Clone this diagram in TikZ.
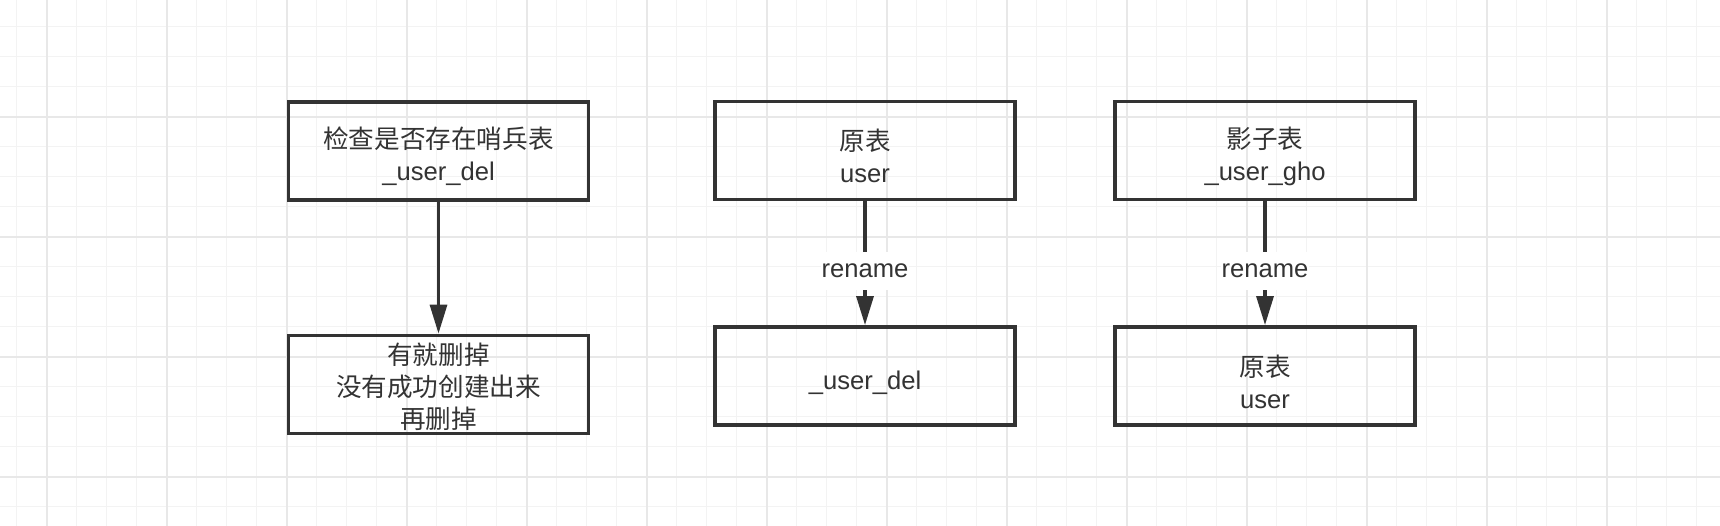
\documentclass[tikz,border=0pt]{standalone}
\usepackage{fontspec}
\setmainfont{Liberation Sans}
\newfontfamily\cjk{Noto Sans CJK SC}
\usetikzlibrary{arrows.meta}
\definecolor{dark}{HTML}{333333}
\definecolor{gridminor}{HTML}{F3F3F3}
\definecolor{gridmajor}{HTML}{E8E8E8}
\tikzset{
  minorline/.style={draw=gridminor, line width=1pt},
  majorline/.style={draw=gridmajor, line width=2pt},
  boxnode/.style={draw=dark, line width=3.8pt, minimum width=300pt, minimum height=98pt,
    inner sep=0pt},
  txt/.style={align=center, text=dark, inner sep=0pt, font=\fontsize{25.6}{32}\selectfont},
  arr/.style={draw=dark, line width=3.2pt, -{Triangle[length=29pt,width=17pt]}},
  lbl/.style={fill=white, text=dark, inner xsep=1pt, inner ysep=0pt, minimum height=38pt,
    font=\fontsize{25.6}{32}\selectfont}
}
\begin{document}
\begin{tikzpicture}[x=1pt,y=-1pt]
\useasboundingbox (0,0) rectangle (1720,526);
\fill[white] (0,0) rectangle (1720,526);
% grid
\foreach \i in {0,...,57} \draw[minorline] ({16.7+30*\i},0) -- ({16.7+30*\i},526);
\foreach \i in {0,...,16} \draw[minorline] (0,{26.7+30*\i}) -- (1720,{26.7+30*\i});
\foreach \i in {0,...,14} \draw[majorline] ({46.7+120*\i},0) -- ({46.7+120*\i},526);
\foreach \i in {0,...,3} \draw[majorline] (0,{116.7+120*\i}) -- (1720,{116.7+120*\i});
% boxes
\node[boxnode] (chk) at (438.5,151) {};
\node[boxnode] (del) at (438.5,384.5) {};
\node[boxnode] (orig) at (865,150.5) {};
\node[boxnode] (udel) at (865,376) {};
\node[boxnode] (ghost) at (1265,150.5) {};
\node[boxnode] (orig2) at (1265,376) {};
% texts
\node[txt] (chkt) at ([yshift=-5.5pt]chk.center) {{\cjk 检查是否存在哨兵表}\\\_user\_del};
\node[txt] (delt) at ([yshift=-2.5pt]del.center) {{\cjk 有就删掉}\\{\cjk 没有成功创建出来}\\{\cjk 再删掉}};
\node[txt] (origt) at ([yshift=-5.5pt]orig.center) {{\cjk 原表}\\user};
\node[txt] (udelt) at ([yshift=-6.5pt]udel.center) {\_user\_del};
\node[txt] (ghostt) at ([yshift=-5.5pt]ghost.center) {{\cjk 影子表}\\\_user\_gho};
\node[txt] (orig2t) at ([yshift=-5.5pt]orig2.center) {{\cjk 原表}\\user};
% connectors
\draw[arr] (chk) -- (del);
\draw[arr] (orig) -- node[lbl, pos=0.56] {rename} (udel);
\draw[arr] (ghost) -- node[lbl, pos=0.56] {rename} (orig2);
\end{tikzpicture}
\end{document}
